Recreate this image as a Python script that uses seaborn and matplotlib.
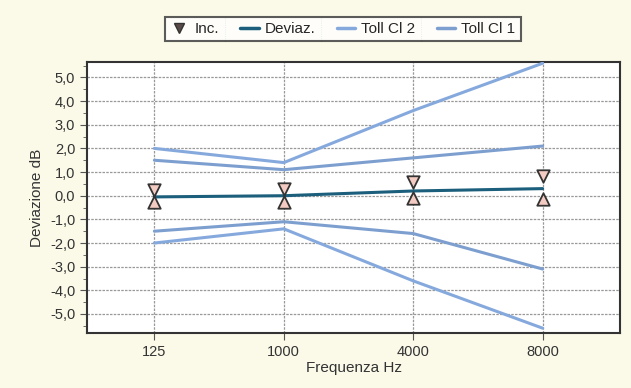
import seaborn as sns
import matplotlib.pyplot as plt
import pandas as pd
from matplotlib.ticker import MultipleLocator, FuncFormatter
from matplotlib.lines import Line2D

# data
freq = ['125', '1000', '4000', '8000']
deviaz = [-0.05, 0.0, 0.2, 0.3]
inc_hi = [0.25, 0.3, 0.6, 0.85]
inc_lo = [-0.25, -0.25, -0.1, -0.15]
cl2_hi = [2.0, 1.4, 3.6, 5.6]
cl2_lo = [-2.0, -1.4, -3.6, -5.6]
cl1_hi = [1.5, 1.1, 1.6, 2.1]
cl1_lo = [-1.5, -1.1, -1.6, -3.1]

c_dev = '#1b5f7c'
c_cl2 = '#86a9dd'
c_cl1 = '#7d9fd0'
bg = '#fbf9e8'

sns.set_style("white")
plt.rcParams['font.family'] = ['Liberation Sans', 'DejaVu Sans']

fig, ax = plt.subplots(figsize=(6.31, 3.88), dpi=100)
fig.patch.set_facecolor(bg)
fig.subplots_adjust(left=0.138, right=0.983, top=0.840, bottom=0.142)

df = pd.DataFrame({'freq': freq})
for vals, col in [(cl2_hi, c_cl2), (cl2_lo, c_cl2), (cl1_hi, c_cl1), (cl1_lo, c_cl1)]:
    sns.lineplot(x=df['freq'], y=vals, ax=ax, color=col, lw=2.2, zorder=3)
sns.lineplot(x=df['freq'], y=deviaz, ax=ax, color=c_dev, lw=2.2, zorder=4)
sns.scatterplot(x=df['freq'], y=inc_hi, ax=ax, marker='v', s=80, color='#f3cbc2',
                edgecolor='#333333', linewidth=1.3, zorder=5)
sns.scatterplot(x=df['freq'], y=inc_lo, ax=ax, marker='^', s=80, color='#f3cbc2',
                edgecolor='#333333', linewidth=1.3, zorder=5)

ax.set_xlim(-0.52, 3.6)
ax.set_ylim(-5.8, 5.65)
ax.yaxis.set_major_locator(MultipleLocator(1))
ax.yaxis.set_minor_locator(MultipleLocator(0.5))
ax.yaxis.set_major_formatter(FuncFormatter(lambda v, p: f'{v:.1f}'.replace('.', ',').replace('-0,0', '0,0')))
ax.grid(True, which='major', color='#999999', lw=0.9, ls=(0, (2, 1)))
ax.set_axisbelow(True)
ax.tick_params(axis='both', which='both', direction='out', color='#555555', labelsize=10.5, labelcolor='#333333')
ax.tick_params(axis='both', which='major', length=5, left=True, bottom=True)
ax.tick_params(axis='y', which='minor', length=3, left=True)
for s in ax.spines.values():
    s.set_color('#333333')
    s.set_linewidth(1.5)
ax.set_xlabel('Frequenza Hz', fontsize=11, color='#333333', labelpad=2)
ax.set_ylabel('Deviazione dB', fontsize=11, color='#333333', labelpad=4)

handles = [
    Line2D([], [], ls='none', marker='v', ms=7, mfc='#5a4a48', mec='#333333'),
    Line2D([], [], color=c_dev, lw=2.5),
    Line2D([], [], color=c_cl2, lw=2.5),
    Line2D([], [], color=c_cl1, lw=2.5),
]
leg = fig.legend(handles, ['Inc.', 'Deviaz.', 'Toll Cl 2', 'Toll Cl 1'], ncol=4,
                 loc='center', bbox_to_anchor=(0.543, 0.925), fontsize=11,
                 frameon=True, fancybox=False, edgecolor='#333333',
                 handlelength=1.2, handletextpad=0.4, columnspacing=1.4,
                 borderpad=0.35)
leg.get_frame().set_linewidth(1.5)
leg.get_frame().set_facecolor('white')

# thin separators between legend columns
fig.canvas.draw()
r = fig.canvas.get_renderer()
fb = leg.get_frame().get_window_extent(r)
texts = leg.get_texts()
inv = fig.transFigure.inverted()
for t in texts[:-1]:
    tb = t.get_window_extent(r)
    xs = tb.x1 + 6
    (x0, y0), (x1, y1) = inv.transform([(xs, fb.y0), (xs, fb.y1)])
    fig.add_artist(Line2D([x0, x1], [y0, y1], color='#aaaaaa', lw=0.8, ls=(0, (1, 1))))

plt.savefig('out.png', dpi=100, facecolor=bg)
plt.close()
